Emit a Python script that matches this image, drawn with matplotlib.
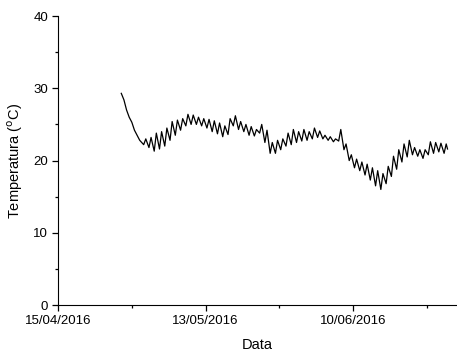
import datetime as dt
import matplotlib
matplotlib.use('Agg')
import matplotlib.pyplot as plt
import matplotlib.dates as mdates
from matplotlib.ticker import MultipleLocator

plt.rcParams['font.family'] = ['Liberation Sans', 'DejaVu Sans']
plt.rcParams['font.size'] = 9.5

# initial cooling (27/04 - 30/04), readings every 12h
start_days = [12.0, 12.5, 13.0, 13.5, 14.0, 14.5, 15.0, 15.5]
start_temps = [29.3, 28.4, 27.0, 26.0, 25.3, 24.2, 23.5, 22.8]

# daily min / max from 01/05 onwards (day offset from 15/04/2016)
days = list(range(16, 74))
tmin = [22.2, 21.8, 21.3, 21.6, 22.0, 22.8, 23.5, 24.2, 24.8, 25.0,
        25.0, 24.8, 24.5, 24.0, 23.7, 23.3, 23.6, 24.8, 24.3, 24.0,
        23.5, 23.4, 23.8, 22.5, 21.0, 21.0, 21.5, 22.0, 22.2, 22.5,
        22.7, 22.8, 23.0, 23.2, 23.0, 22.8, 22.6, 22.7, 21.5, 20.0,
        19.0, 18.6, 18.0, 17.3, 16.5, 16.0, 16.8, 17.8, 18.8, 19.8,
        20.5, 20.8, 20.6, 20.3, 20.8, 21.0, 21.2, 21.0]
tmax = [23.0, 23.2, 23.8, 24.0, 24.5, 25.4, 25.6, 25.8, 26.4, 26.3,
        26.0, 25.8, 25.7, 25.5, 25.2, 24.8, 25.8, 26.2, 25.4, 25.0,
        24.7, 24.3, 25.0, 24.2, 22.5, 22.8, 23.0, 23.8, 24.3, 24.0,
        24.3, 24.0, 24.5, 24.1, 23.5, 23.3, 23.0, 24.3, 22.3, 20.8,
        20.2, 19.8, 19.5, 19.0, 18.6, 18.2, 19.2, 20.6, 21.5, 22.3,
        22.8, 21.8, 21.5, 21.5, 22.6, 22.5, 22.4, 22.3]
end_day, end_temp = 73.9, 21.6

t0 = dt.datetime(2016, 4, 15)
times = [t0 + dt.timedelta(days=d) for d in start_days]
temps = list(start_temps)
for d, lo, hi in zip(days, tmin, tmax):
    times += [t0 + dt.timedelta(days=d + 0.25), t0 + dt.timedelta(days=d + 0.65)]
    temps += [lo, hi]
times.append(t0 + dt.timedelta(days=end_day))
temps.append(end_temp)

fig = plt.figure(figsize=(4.57, 3.56), dpi=100)
ax = fig.add_axes([0.127, 0.143, 0.873, 0.812])
ax.plot(times, temps, color='k', lw=0.9)

ax.set_xlim(t0, t0 + dt.timedelta(days=75.7))
ax.set_ylim(0, 40)
ax.set_xticks([t0 + dt.timedelta(days=28 * i) for i in range(3)])
ax.set_xticks([t0 + dt.timedelta(days=14 + 28 * i) for i in range(3)], minor=True)
ax.xaxis.set_major_formatter(mdates.DateFormatter('%d/%m/%Y'))
ax.yaxis.set_major_locator(MultipleLocator(10))
ax.yaxis.set_minor_locator(MultipleLocator(5))
ax.tick_params(direction='out', length=4.5, width=0.9, pad=2.5)
ax.tick_params(which='minor', direction='out', length=2.5, width=0.9)

ax.spines['top'].set_visible(False)
ax.spines['right'].set_visible(False)
ax.set_xlabel('Data', fontsize=10.5, labelpad=8)
ax.set_ylabel(r'Temperatura ($^\mathrm{o}$C)', fontsize=10.5, labelpad=6)

fig.savefig('out.png', dpi=100)
